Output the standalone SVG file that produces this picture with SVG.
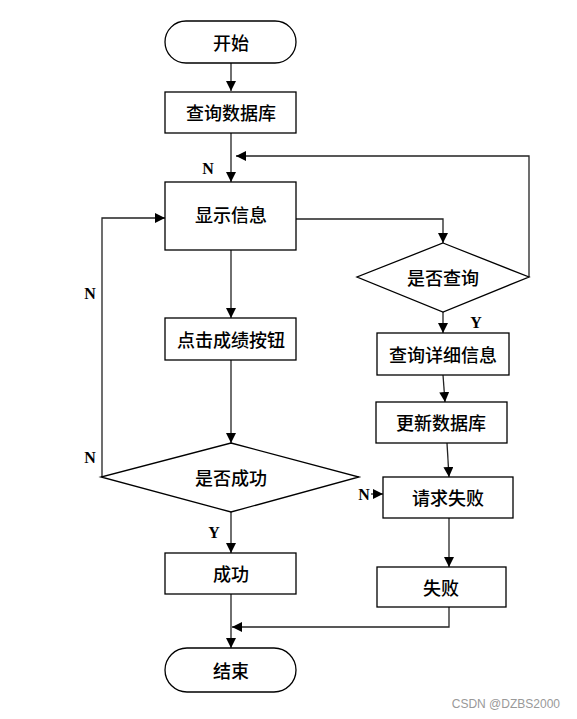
<svg xmlns="http://www.w3.org/2000/svg" width="577" height="719" viewBox="0 0 577 719">
<style>
.n{fill:#fff;stroke:#000;stroke-width:1.3}
.t{font-family:"Noto Sans CJK SC","Noto Sans",sans-serif;font-size:18px;font-weight:500;fill:#000;text-anchor:middle;dominant-baseline:central}
.l{font-family:"Liberation Serif",serif;font-size:16px;font-weight:bold;fill:#000;text-anchor:middle;dominant-baseline:central}
.c{fill:none;stroke:#222;stroke-width:1.3}
</style>
<defs>
<marker id="a" viewBox="0 0 10 10" refX="10" refY="5" markerWidth="10" markerHeight="10" markerUnits="userSpaceOnUse" orient="auto">
<path d="M0,0 L10,5 L0,10 z" fill="#000"/>
</marker>
</defs>
<rect width="577" height="719" fill="#fff"/>
<g id="connectors">
<path class="c" d="M231,63 V91" marker-end="url(#a)"/>
<path class="c" d="M231,133 V182" marker-end="url(#a)"/>
<path class="c" d="M529,277 V156 H236" marker-end="url(#a)"/>
<path class="c" d="M296,219 H443 V243" marker-end="url(#a)"/>
<path class="c" d="M443,312 V333" marker-end="url(#a)"/>
<path class="c" d="M443,375 L445,402" marker-end="url(#a)"/>
<path class="c" d="M447,443 L449,477" marker-end="url(#a)"/>
<path class="c" d="M449,518 V567" marker-end="url(#a)"/>
<path class="c" d="M449,607 V627 H232" marker-end="url(#a)"/>
<path class="c" d="M231,250 V318" marker-end="url(#a)"/>
<path class="c" d="M231,360 V443" marker-end="url(#a)"/>
<path class="c" d="M102,477 V218 H165" marker-end="url(#a)"/>
<path class="c" d="M231,512 V553" marker-end="url(#a)"/>
<path class="c" d="M231,594 V648" marker-end="url(#a)"/>
<path class="c" d="M371,494 H383" marker-end="url(#a)"/>
<text class="l" x="208" y="168">N</text>
<text class="l" x="476" y="322">Y</text>
<text class="l" x="90" y="293">N</text>
<text class="l" x="90" y="457">N</text>
<text class="l" x="214" y="532">Y</text>
<text class="l" x="364" y="494">N</text>
</g>
<g id="start"><rect class="n" x="165" y="21" width="131" height="42" rx="21"/><text class="t" x="231" y="42">开始</text></g>
<g id="querydb"><rect class="n" x="165" y="92" width="131" height="41"/><text class="t" x="231" y="112">查询数据库</text></g>
<g id="show"><rect class="n" x="165" y="182" width="131" height="68"/><text class="t" x="231" y="214">显示信息</text></g>
<g id="isquery"><polygon class="n" points="443,243 529,277 443,312 357,277"/><text class="t" x="443" y="277">是否查询</text></g>
<g id="detail"><rect class="n" x="377" y="333" width="132" height="42"/><text class="t" x="443" y="354">查询详细信息</text></g>
<g id="update"><rect class="n" x="376" y="402" width="131" height="41"/><text class="t" x="441" y="422">更新数据库</text></g>
<g id="reqfail"><rect class="n" x="383" y="477" width="130" height="41"/><text class="t" x="448" y="497">请求失败</text></g>
<g id="fail"><rect class="n" x="377" y="567" width="129" height="40"/><text class="t" x="441" y="587">失败</text></g>
<g id="click"><rect class="n" x="165" y="318" width="131" height="42"/><text class="t" x="231" y="339">点击成绩按钮</text></g>
<g id="issuccess"><polygon class="n" points="231,443 359,477 231,512 101,477"/><text class="t" x="231" y="477">是否成功</text></g>
<g id="success"><rect class="n" x="165" y="553" width="131" height="41"/><text class="t" x="231" y="573">成功</text></g>
<g id="end"><rect class="n" x="165" y="648" width="131" height="44" rx="22"/><text class="t" x="231" y="670">结束</text></g>
<text x="560" y="704" font-family="Liberation Sans,sans-serif" font-size="12" fill="#999" text-anchor="end" dominant-baseline="central">CSDN @DZBS2000</text>
</svg>
